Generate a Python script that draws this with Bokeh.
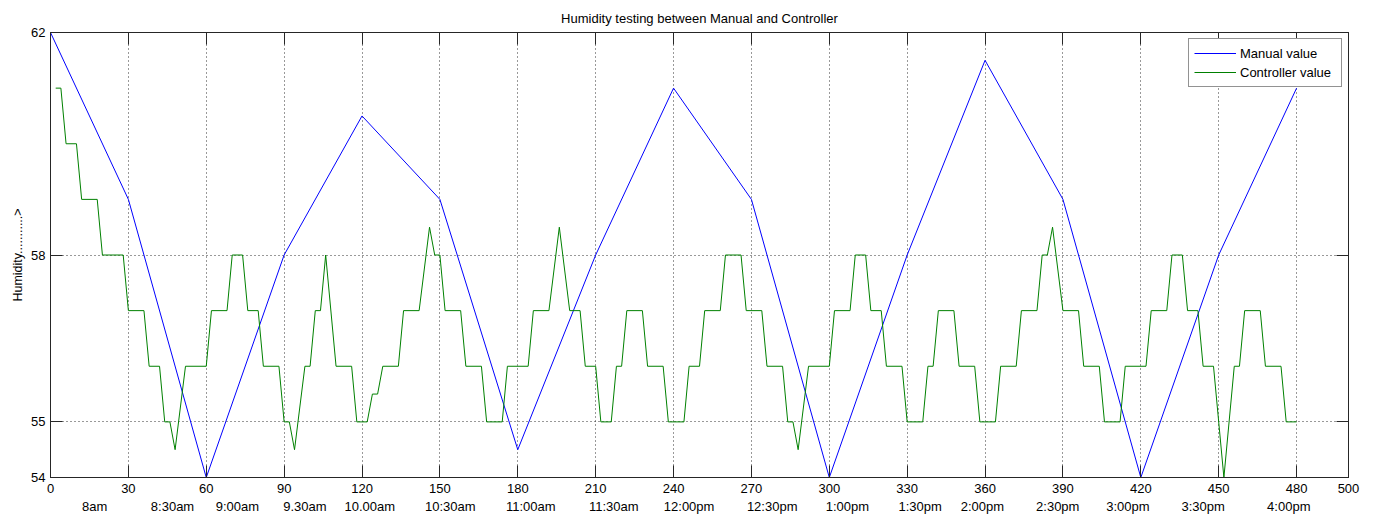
from bokeh.plotting import figure
from bokeh.models import FixedTicker, LinearAxis, Range1d, Legend, LegendItem
from bokeh.embed import file_html
from bokeh.resources import INLINE

# ---- data ----
manual_t = [0, 30, 60, 90, 120, 150, 180, 210, 240, 270, 300, 330, 360, 390, 420, 450, 480]
manual_v = [62, 59, 54, 58, 60.5, 59, 54.5, 58, 61, 59, 54, 58, 61.5, 59, 54, 58, 61]

ctrl_t = [2, 4, 6, 10, 12, 18, 20, 28, 30, 36, 38, 42, 44, 46, 48, 52, 60, 62, 68, 70,
          74, 76, 80, 82, 88, 90, 92, 94, 98, 100, 102, 104, 106, 110, 116, 118, 122, 124, 126, 128,
          134, 136, 142, 146, 148, 150, 152, 158, 160, 166, 168, 174, 176, 184, 186, 192, 196, 200, 204, 206,
          210, 212, 216, 218, 220, 222, 228, 230, 236, 238, 244, 246, 250, 252, 258, 260, 266, 268, 274, 276,
          282, 284, 286, 288, 292, 300, 302, 308, 310, 314, 316, 320, 322, 328, 330, 336, 338, 340, 342, 348,
          350, 356, 358, 364, 366, 372, 374, 380, 382, 384, 386, 390, 396, 398, 404, 406, 412, 414, 422, 424,
          430, 432, 436, 438, 442, 444, 448, 452, 456, 458, 460, 466, 468, 474, 476, 480]
ctrl_v = [61, 61, 60, 60, 59, 59, 58, 58, 57, 57, 56, 56, 55, 55, 54.5, 56, 56, 57, 57, 58,
          58, 57, 57, 56, 56, 55, 55, 54.5, 56, 56, 57, 57, 58, 56, 56, 55, 55, 55.5, 55.5, 56,
          56, 57, 57, 58.5, 58, 58, 57, 57, 56, 56, 55, 55, 56, 56, 57, 57, 58.5, 57, 57, 56,
          56, 55, 55, 56, 56, 57, 57, 56, 56, 55, 55, 56, 56, 57, 57, 58, 58, 57, 57, 56,
          56, 55, 55, 54.5, 56, 56, 57, 57, 58, 58, 57, 57, 56, 56, 55, 55, 56, 56, 57, 57,
          56, 56, 55, 55, 56, 56, 57, 57, 58, 58, 58.5, 57, 57, 56, 56, 55, 55, 56, 56, 57,
          57, 58, 58, 57, 57, 56, 56, 54, 56, 56, 57, 57, 56, 56, 55, 55]

x_ticks = [0, 30, 60, 90, 120, 150, 180, 210, 240, 270, 300, 330, 360, 390, 420, 450, 480, 500]
y_ticks = [54, 55, 58, 62]

time_pos = [17, 47, 72, 98, 123, 154, 185, 217, 246, 278, 307, 335, 359, 388, 415, 444, 477]
time_labels = ["8am", "8:30am", "9:00am", "9.30am", "10.00am", "10:30am", "11:00am", "11:30am",
               "12:00pm", "12:30pm", "1:00pm", "1:30pm", "2:00pm", "2:30pm", "3:00pm", "3:30pm", "4:00pm"]

FONT = "Liberation Sans"
AX = "#262626"

p = figure(width=1375, height=518, x_range=Range1d(0, 500), y_range=Range1d(54, 62),
           output_backend="svg", toolbar_location=None,
           min_border_left=50, min_border_right=27, min_border_top=32, min_border_bottom=41,
           title="Humidity testing between Manual and Controller")

p.title.align = "center"
p.title.text_font = FONT
p.title.text_font_size = "13px"
p.title.text_font_style = "normal"
p.title.text_color = "black"
p.title.standoff = 13

p.outline_line_color = AX
p.outline_line_width = 1
p.background_fill_color = "white"
p.border_fill_color = "white"

# main axes
xa = p.xaxis[0]
xa.ticker = FixedTicker(ticks=x_ticks)
xa.major_tick_in = 12
xa.major_tick_out = 0
xa.minor_tick_line_color = None
xa.axis_line_color = AX
xa.major_tick_line_color = AX
xa.major_label_text_font = FONT
xa.major_label_text_font_size = "13px"
xa.major_label_text_color = "black"
xa.major_label_standoff = 6

ya = p.yaxis[0]
ya.ticker = FixedTicker(ticks=y_ticks)
ya.major_tick_in = 12
ya.major_tick_out = 0
ya.minor_tick_line_color = None
ya.axis_line_color = AX
ya.major_tick_line_color = AX
ya.major_label_text_font = FONT
ya.major_label_text_font_size = "13px"
ya.major_label_text_color = "black"
ya.major_label_standoff = 5
ya.axis_label = "Humidity...........>"
ya.axis_label_text_font = FONT
ya.axis_label_text_font_size = "12.5px"
ya.axis_label_text_font_style = "normal"
ya.axis_label_text_color = "black"
ya.axis_label_standoff = 3

# grid
p.xgrid.ticker = FixedTicker(ticks=x_ticks)
p.ygrid.ticker = FixedTicker(ticks=y_ticks)
for g in (p.xgrid, p.ygrid):
    g.grid_line_color = "#333333"
    g.grid_line_dash = "1 3"
    g.grid_line_width = 1

# mirrored tick axes (top and right), tick marks only
top_axis = LinearAxis(ticker=FixedTicker(ticks=x_ticks), major_label_text_font_size="0px",
                      major_label_text_color=None,
                      major_label_standoff=0, major_tick_in=12, major_tick_out=0,
                      minor_tick_line_color=None, axis_line_color=AX, major_tick_line_color=AX)
p.add_layout(top_axis, "above")
right_axis = LinearAxis(ticker=FixedTicker(ticks=y_ticks), major_label_text_font_size="0px",
                        major_label_text_color=None,
                        major_label_standoff=0, major_tick_in=12, major_tick_out=0,
                        minor_tick_line_color=None, axis_line_color=AX, major_tick_line_color=AX)
p.add_layout(right_axis, "right")

# second row of time labels
time_axis = LinearAxis(ticker=FixedTicker(ticks=time_pos),
                       major_label_overrides={t: s for t, s in zip(time_pos, time_labels)},
                       axis_line_color=None, major_tick_line_color=None, minor_tick_line_color=None,
                       major_tick_in=0, major_tick_out=0, major_label_standoff=3,
                       major_label_text_font=FONT, major_label_text_font_size="13px",
                       major_label_text_color="black")
p.add_layout(time_axis, "below")

r1 = p.line(manual_t, manual_v, line_color="#0000ff", line_width=1)
r2 = p.line(ctrl_t, ctrl_v, line_color="#008000", line_width=1)

legend = Legend(items=[LegendItem(label="Manual value", renderers=[r1]),
                       LegendItem(label="Controller value", renderers=[r2])],
                location="top_right", margin=6, padding=5, spacing=1,
                glyph_width=42, glyph_height=18, label_height=18, label_standoff=4,
                label_width=96,
                label_text_font=FONT, label_text_font_size="13px", label_text_color="black",
                border_line_color=AX, border_line_width=1,
                background_fill_color="white", background_fill_alpha=1.0)
p.add_layout(legend)

open("out.html", "w").write(file_html(p, INLINE))
